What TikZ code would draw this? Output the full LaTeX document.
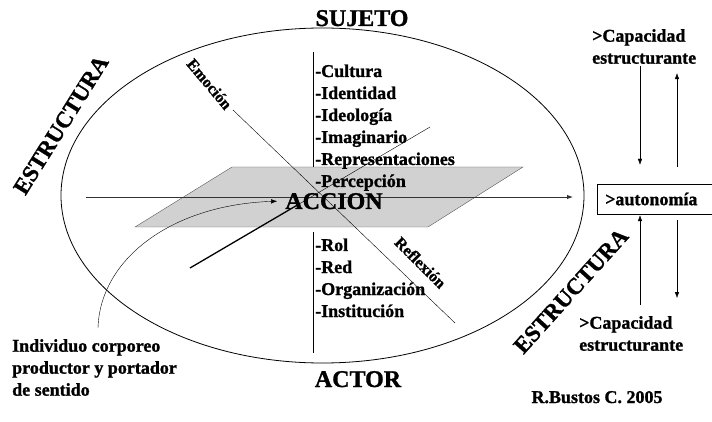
\documentclass[tikz,border=0pt]{standalone}
\usepackage{fontspec}
\setmainfont{Liberation Serif}[BoldFont={Liberation Serif Bold}, BoldFeatures={FakeBold=1.2}]
\usetikzlibrary{arrows.meta}

\begin{document}
\begin{tikzpicture}[x=1pt,y=-1pt,
  big/.style={font=\bfseries\fontsize{24}{28}\selectfont, inner sep=0pt},
  txt/.style={font=\bfseries\fontsize{18}{22}\selectfont, inner sep=0pt, align=left},
  small/.style={font=\bfseries\fontsize{16}{18}\selectfont, inner sep=0pt},
  arr/.style={-{Latex[length=6pt,width=4.5pt]}}]
\useasboundingbox (0,0) rectangle (712,422);
\def \gap {22}
% ellipse and plane
\draw[line width=0.8pt] (322.5,195.5) ellipse [x radius=261.5pt, y radius=167.5pt];
\filldraw[fill=black!18, draw=black!65] (135,227) -- (428,227) -- (523,167) -- (232,167) -- cycle;
% axes
\coordinate (hl) at (86,197);
\coordinate (hr) at (573,197);
\draw[arr, black!80, line width=0.9pt] (hl) -- (hr);
\coordinate (vt) at (313,52);
\coordinate (vm) at (313,167);
\coordinate (vb) at (313,232);
\coordinate (ve) at (313,353);
\draw (vt) -- (vm);
\draw (vb) -- (ve);
\coordinate (eTop) at (233,110);
\coordinate (eBot) at (455,323);
\draw (eTop) -- (eBot);
\coordinate (dA) at (190,268);
\coordinate (dB) at (300,203.5);
\coordinate (dC) at (430,127);
\draw[line width=1.3pt] (dA) -- (dB);
\draw (dB) -- (dC);
% labels
\node[big, anchor=base] (sujeto) at (362,26) {SUJETO};
\node[big, anchor=base] (actor) at (358,387) {ACTOR};
\node[big, anchor=base] (accion) at (334,209) {ACCION};
\node[big, font=\bfseries\fontsize{23}{28}\selectfont, rotate=58] (estL) at (61,125) {ESTRUCTURA};
\node[big, font=\bfseries\fontsize{23}{28}\selectfont, rotate=48] (estR) at (571,291) {ESTRUCTURA};
\node[small, rotate=-50] (emocion) at (209.5,84) {Emoción};
\node[small, rotate=-45] (reflexion) at (420.5,262.5) {Reflexión};
\foreach \w [count=\i] in {Cultura,Identidad,Ideología,Imaginario,Representaciones,Percepción}
  \node[txt, anchor=base west] (up\i) at (315,{77+\gap*(\i-1)}) {-\w};
\foreach \w [count=\i] in {Rol,Red,Organización,Institución}
  \node[txt, anchor=base west] (low\i) at (315,{251+\gap*(\i-1)}) {-\w};
\node[txt, anchor=north west] (indiv) at (12,339) {Individuo corporeo\\productor y portador\\de sentido};
\coordinate (src) at (98,328);
\draw[arr] (src) .. controls (100,260) and (170,205) .. ([xshift=-8pt]accion.west);
% right side
\node[txt, anchor=west, minimum height=30pt, text width=99pt, inner xsep=8pt] (auto) at (597,199) {>autonomía};
\draw (auto.north east) -- (auto.north west) -- (auto.south west) -- (auto.south east);
\node[txt, anchor=north west] (capTop) at (592,29) {>Capacidad\\estructurante};
\node[txt, anchor=north west] (capBot) at (579,316) {>Capacidad\\estructurante};
\draw[arr, shorten <=2pt, shorten >=19pt] (capTop.south -| 640,0) -- (auto.north -| 640,0);
\draw[arr, shorten <=17pt, shorten >=9pt] (auto.north -| 677,0) -- (capTop.south -| 677,0);
\draw[arr, shorten <=11pt, shorten >=1pt] (capBot.north -| 640,0) -- (auto.south -| 640,0);
\draw[arr, shorten <=6pt, shorten >=18pt] (auto.south -| 677,0) -- (capBot.north -| 677,0);
\node[txt, anchor=base] (firma) at (597,403) {R.Bustos C. 2005};
\end{tikzpicture}
\end{document}
